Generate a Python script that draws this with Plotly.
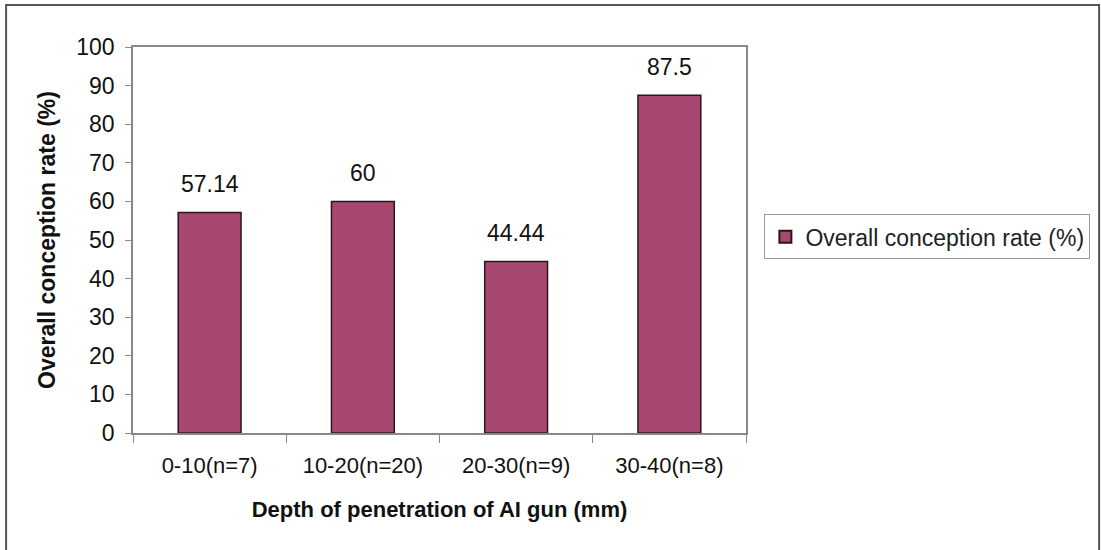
import plotly.graph_objects as go

categories = ["0-10(n=7)", "10-20(n=20)", "20-30(n=9)", "30-40(n=8)"]
conception_rate = [57.14, 60, 44.44, 87.5]
series_name = "Overall conception rate (%)"
y_ticks = [0, 10, 20, 30, 40, 50, 60, 70, 80, 90, 100]

BAR_COLOR = "#A6486F"
FONT = "Liberation Sans, Arial, sans-serif"

fig = go.Figure()
fig.add_trace(go.Bar(
    x=categories,
    y=conception_rate,
    name=series_name,
    marker=dict(color=BAR_COLOR, line=dict(color="#2a1520", width=1.5)),
    showlegend=True,
))

# value labels above each bar
for cat, val in zip(categories, conception_rate):
    fig.add_annotation(
        x=cat, y=val, text=f"{val:g}", showarrow=False,
        yanchor="bottom", yshift=13,
        font=dict(family=FONT, size=23, color="#111111"),
    )

# outer frame around the whole chart
fig.add_shape(
    type="rect", xref="paper", yref="paper",
    x0=-0.207, x1=1.576, y0=-0.6, y1=1.109,
    line=dict(color="#555555", width=2),
)

fig.update_layout(
    width=1101, height=550,
    margin=dict(l=133, r=355, t=47, b=117, autoexpand=False),
    paper_bgcolor="white", plot_bgcolor="white",
    font=dict(family=FONT, size=22, color="#111111"),
    bargap=0.59,
    legend=dict(
        x=1.03, y=0.508, xanchor="left", yanchor="middle",
        bordercolor="#999999", borderwidth=1,
        font=dict(family=FONT, size=23, color="#222222"),
        itemsizing="constant", itemwidth=30,
    ),
    xaxis=dict(
        title=dict(text="<b>Depth of penetration of AI gun (mm)</b>",
                   font=dict(family=FONT, size=22, color="#111111"), standoff=24),
        showline=True, linecolor="#888888", linewidth=1.5, mirror=True,
        ticks="outside", tickson="boundaries", ticklen=8, tickcolor="#888888",
        ticklabelstandoff=12,
        showgrid=False,
        tickfont=dict(family=FONT, size=22, color="#111111"),
    ),
    yaxis=dict(
        title=dict(text="<b>Overall conception rate (%)</b>",
                   font=dict(family=FONT, size=23, color="#111111"), standoff=14),
        range=[0, 100], tickvals=y_ticks,
        showline=True, linecolor="#888888", linewidth=1.5, mirror=True,
        ticks="outside", ticklen=6, tickcolor="#888888",
        ticklabelstandoff=6,
        showgrid=False, zeroline=False,
        tickfont=dict(family=FONT, size=23, color="#111111"),
    ),
)

fig.write_html("out.html")
